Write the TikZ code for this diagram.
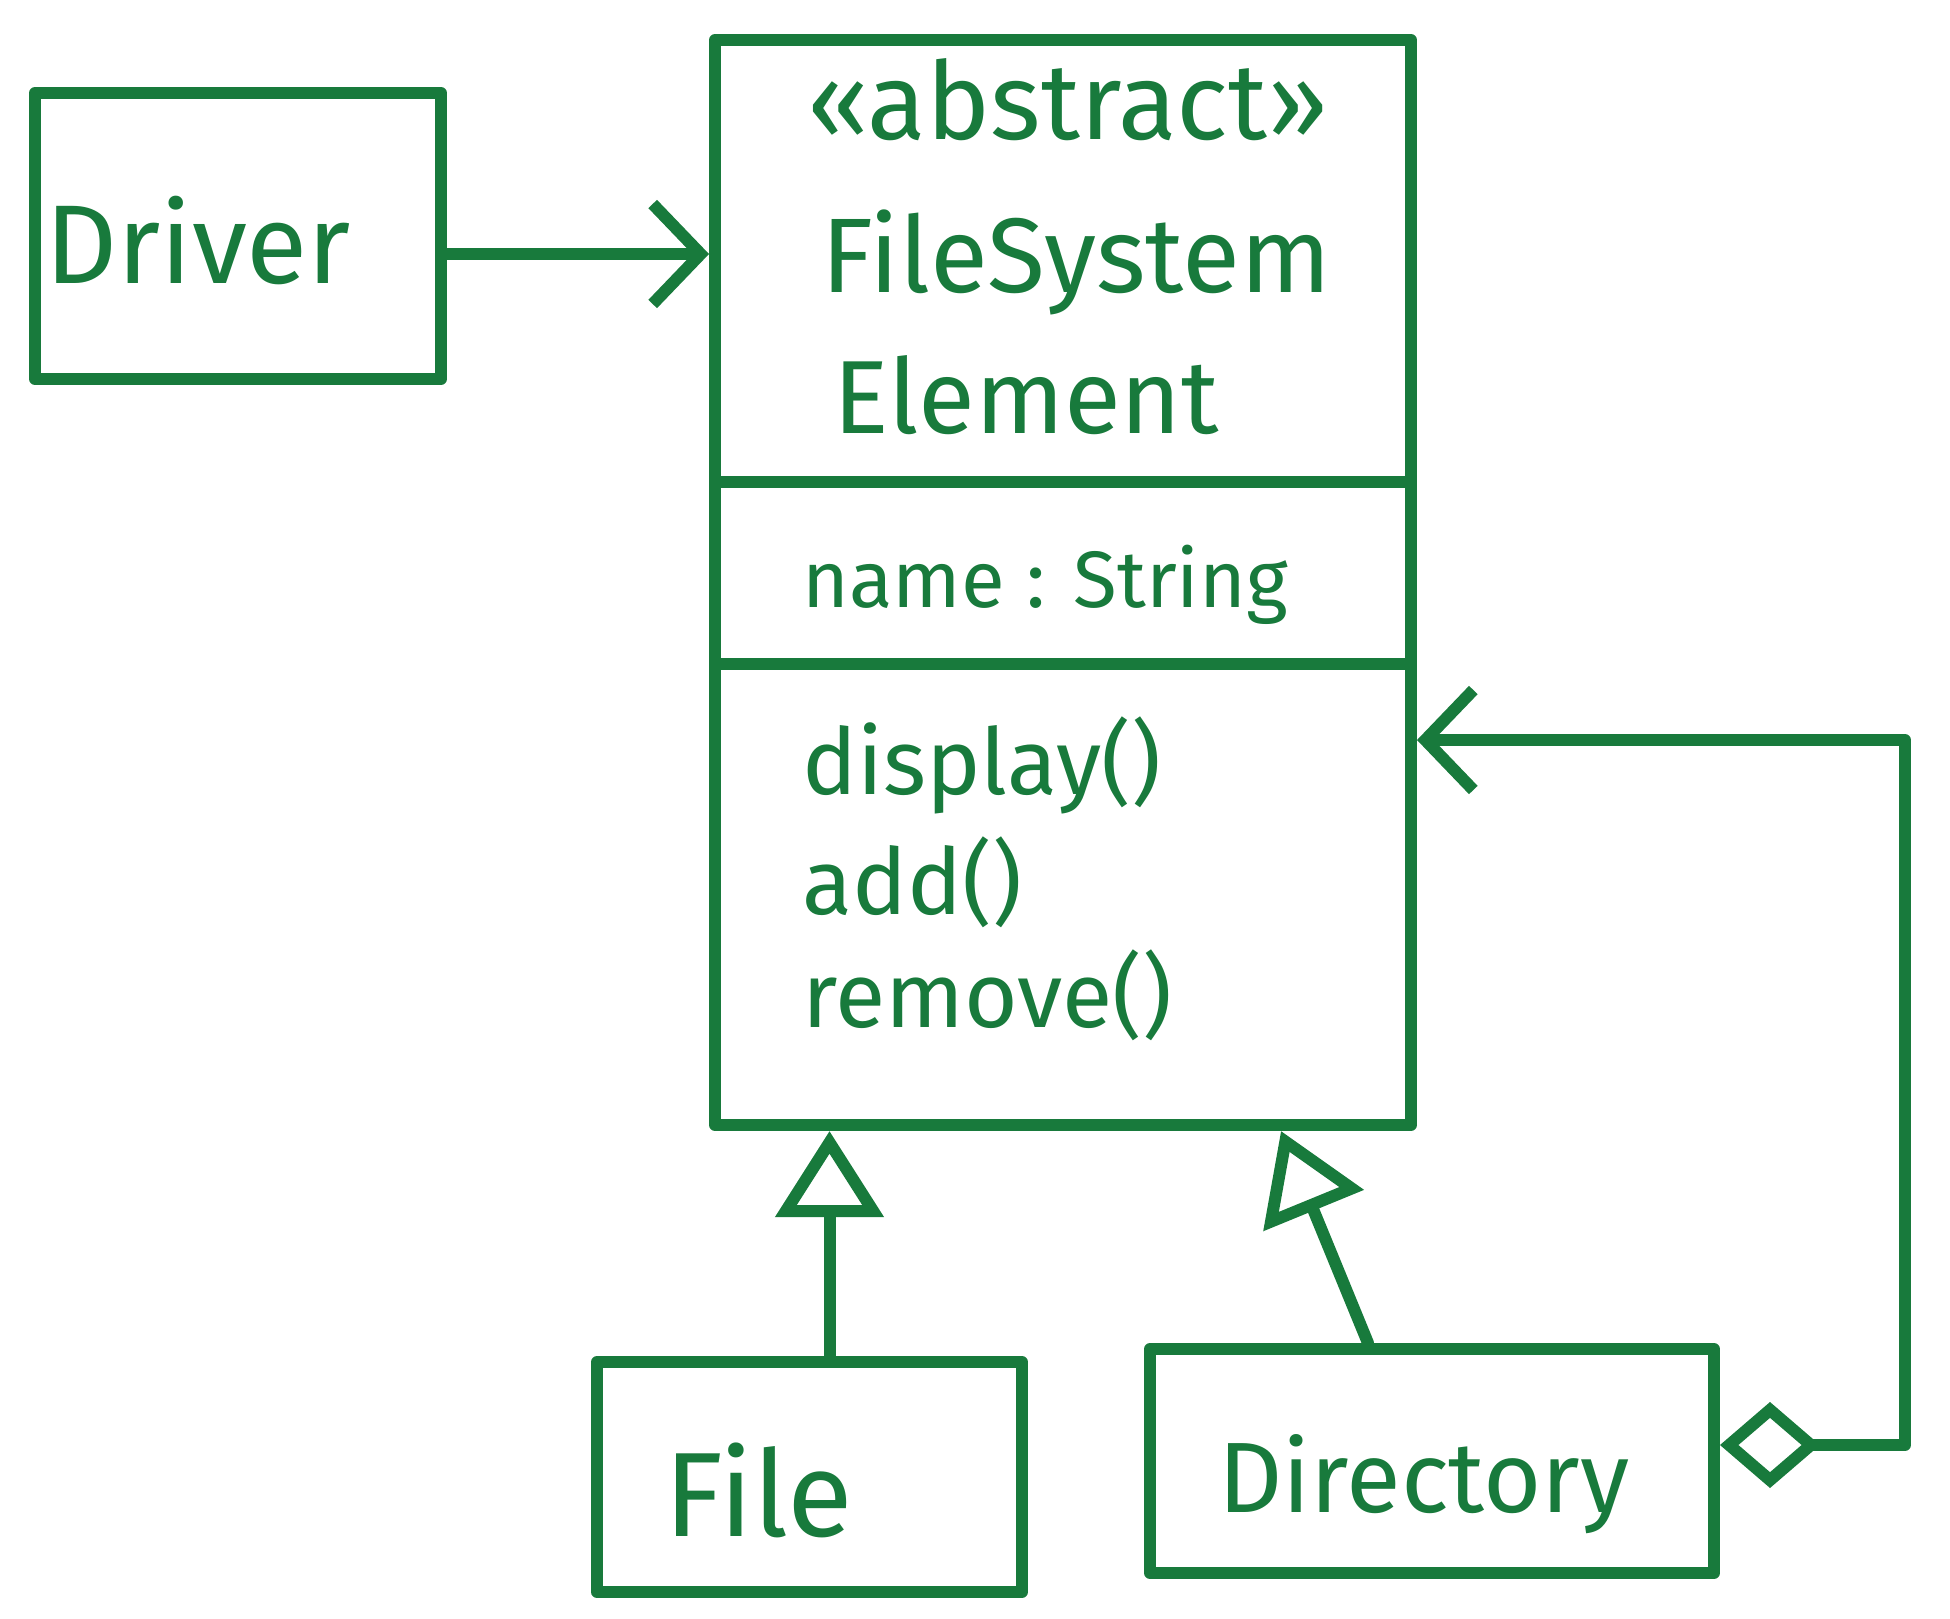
\documentclass[tikz,border=0pt]{standalone}
\usepackage{fontspec}
\setmainfont{Fira Sans}
\usetikzlibrary{arrows.meta}
\definecolor{ink}{RGB}{24,122,60}
\tikzset{
  box/.style={draw=ink, line width=6pt, line join=round, inner sep=0pt},
  lbl/.style={text=ink, inner sep=0pt},
  conn/.style={draw=ink, line width=6pt, line join=round, line cap=round},
  divider/.style={draw=ink, line width=6pt},
  assoc/.style={conn, -{Straight Barb[length=24pt,width=50pt,line width=6pt]}},
  inh/.style={conn, -{Triangle[open,length=43pt,width=53pt,line width=6pt]}},
  agg/.style={conn, {Diamond[open,length=50pt,width=43pt,line width=6pt]}-{Straight Barb[length=24pt,width=50pt,line width=6pt]}}
}
\newcommand{\fsz}[1]{\fontsize{#1}{#1}\selectfont}
\begin{document}
\begin{tikzpicture}[x=0.5pt,y=-0.5pt]
\useasboundingbox (0,0) rectangle (1950,1618);
% boxes
\node[box, minimum width=203pt, minimum height=143pt] (driver) at (238,236) {};
\node[box, minimum width=348pt, minimum height=542.5pt] (fse) at (1063,582.5) {};
\node[box, minimum width=212.5pt, minimum height=115pt] (file) at (809.5,1477) {};
\node[box, minimum width=282pt, minimum height=112pt] (dir) at (1432,1461) {};
% dividers
\coordinate (d1) at (0,482);
\coordinate (d2) at (0,664);
\draw[divider] (fse.west |- d1) -- (fse.east |- d1);
\draw[divider] (fse.west |- d2) -- (fse.east |- d2);
% texts
\node[lbl] (tdriver) at (198,240) {\fsz{56pt}Driver};
\node[lbl] (tabs) at (1068,100) {\fsz{54pt}«abstract»};
\node[lbl, anchor=west] (tname1) at (821,262) {\fsz{53pt}FileSystem};
\node[lbl, anchor=west] (tname2) at (833,395) {\fsz{52pt}Element};
\node[lbl, anchor=west] (tattr) at (802,585) {\fsz{40pt}name : String};
\node[lbl, anchor=west] (tm1) at (802,765) {\fsz{46pt}display()};
\node[lbl, anchor=west] (tm2) at (802,882) {\fsz{46pt}add()};
\node[lbl, anchor=west] (tm3) at (802,995) {\fsz{46pt}remove()};
\node[lbl] (tfile) at (759,1490) {\fsz{60pt}File};
\node[lbl] (tdir) at (1424,1484) {\fsz{50pt}Directory};
% connectors
\draw[assoc] ([yshift=-9pt]driver.east) -- ([yshift=-9pt]driver.east -| fse.west);
\draw[inh] ([xshift=10pt]file.north) -- ([xshift=10pt]file.north |- fse.south);
\draw[inh] ([xshift=-32pt]dir.north) -- ([xshift=109pt]fse.south);
\coordinate (c1) at (1905,1445);
\coordinate (c2) at (1905,740);
\draw[agg] ([yshift=8pt]dir.east) -- (c1) -- (c2) -- (fse.east |- c2);
\end{tikzpicture}
\end{document}
